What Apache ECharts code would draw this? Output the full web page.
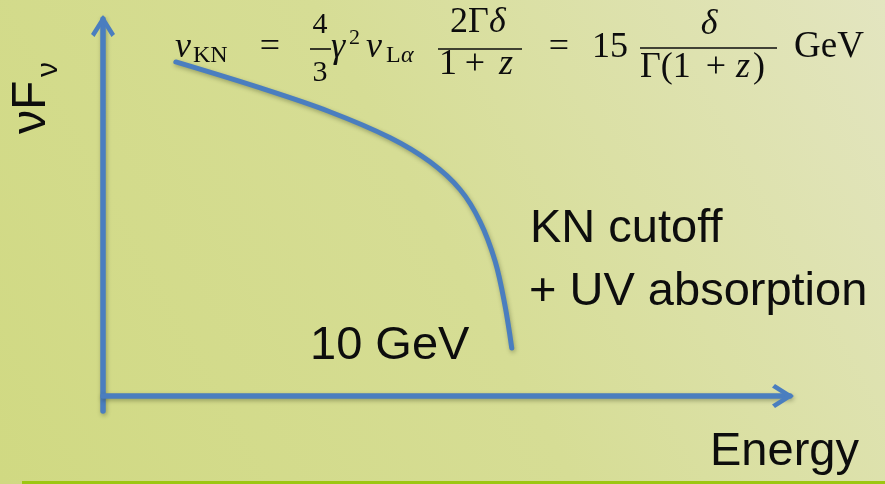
<!DOCTYPE html>
<html>
<head>
<meta charset="utf-8">
<script src="https://cdn.jsdelivr.net/npm/echarts@6/dist/echarts.min.js"></script>
<style>
  html, body { margin: 0; padding: 0; background: #d8df9c; }
  #chart { width: 885px; height: 484px; }
</style>
</head>
<body>
<div id="chart"></div>
<script>
// Schematic spectrum (arbitrary units): the high-energy end bending over and dropping
const energy = [10.6, 22.9, 33.0, 41.8, 47.6, 52.0, 54.9, 57.1, 58.5, 59.5];
const flux   = [88.6, 81.7, 75.4, 68.5, 62.1, 54.7, 46.2, 35.6, 24.1, 12.7];

// Axis ranges (arbitrary units)
const xRange = [0, 100];
const yRange = [-4, 100];

// Text shown on the sketch
const yTitle = 'νF';
const yTitleSub = 'ν';
const xTitle = 'Energy';
const cutoffLines = ['KN cutoff', '+ UV absorption'];
const cutoffEnergy = '10 GeV';

const BLUE = '#4a7ebf';
const INK = '#0d0d0d';
const SANS = "'Liberation Sans', Arial, Helvetica, sans-serif";
const SERIF = "'Liberation Serif', 'Times New Roman', serif";

// Open chevron arrow head (points up in its own box)
const CHEVRON = 'path://M12,0 L24,19 L20.5,22 L12,8.5 L3.5,22 L0,19 Z';

const lineShadow = {
  shadowColor: 'rgba(40,50,20,0.35)',
  shadowBlur: 4,
  shadowOffsetX: 1,
  shadowOffsetY: 2
};

function axisCommon(range) {
  return {
    type: 'value',
    min: range[0],
    max: range[1],
    axisLine: {
      show: true,
      onZero: true,
      symbol: ['none', CHEVRON],
      symbolSize: [24, 22],
      symbolOffset: [0, -7],
      lineStyle: Object.assign({ color: BLUE, width: 5.5 }, lineShadow)
    },
    axisTick: { show: false },
    axisLabel: { show: false },
    splitLine: { show: false }
  };
}

// Place text by its alphabetic baseline
function txt(text, x, baseline, size, opt) {
  opt = opt || {};
  const family = opt.family || SERIF;
  return {
    type: 'text',
    z: 50,
    silent: true,
    style: {
      text: text,
      x: x,
      y: baseline - 0.34 * size,
      font: (opt.italic ? 'italic ' : '') + size + 'px ' + family,
      fill: INK,
      align: opt.align || 'left',
      verticalAlign: 'middle'
    }
  };
}

function bar(x1, x2, y) {
  return {
    type: 'line',
    z: 50,
    silent: true,
    shape: { x1: x1, y1: y, x2: x2, y2: y },
    style: { stroke: INK, lineWidth: 1.6 }
  };
}

// Klein–Nishina energy relation written across the top
function formula() {
  const S = 36;
  return [
    txt('ν', 175, 60, S, { italic: true }),
    txt('KN', 193, 64, 24),
    txt('=', 270, 60, S, { align: 'center' }),
    txt('4', 320, 35, 30, { align: 'center' }),
    bar(310, 331, 49),
    txt('3', 320, 83, 30, { align: 'center' }),
    txt('γ', 331, 60, S, { italic: true }),
    txt('2', 349, 46, 22),
    txt('ν', 366, 60, S, { italic: true }),
    txt('L', 386, 64, 24),
    txt('α', 401, 64, 24, { italic: true }),
    txt('2Γ', 450, 35, S),
    txt('δ', 489, 35, S, { italic: true }),
    bar(438, 522, 49),
    txt('1', 439, 77, S),
    txt('+', 475, 77, S, { align: 'center' }),
    txt('z', 499, 77, S, { italic: true }),
    txt('=', 559, 60, S, { align: 'center' }),
    txt('15', 592, 60, S),
    txt('δ', 709, 37, S, { italic: true, align: 'center' }),
    bar(640, 777, 48),
    txt('Γ(1', 640, 80, S),
    txt('+', 716, 80, S, { align: 'center' }),
    txt('z', 736, 80, S, { italic: true }),
    txt(')', 753, 80, S),
    txt('GeV', 794, 60, 37)
  ];
}

const chart = echarts.init(document.getElementById('chart'), null, { renderer: 'canvas' });

const graphics = [
  {
    type: 'rect',
    z: -10,
    silent: true,
    shape: { x: 0, y: 0, width: 885, height: 484 },
    style: {
      fill: {
        type: 'linear', x: 0, y: 1, x2: 1, y2: 0,
        colorStops: [
          { offset: 0, color: '#d0d982' },
          { offset: 0.5, color: '#d6dd95' },
          { offset: 1, color: '#e3e5c0' }
        ]
      }
    }
  },
  {
    type: 'rect',
    z: 5,
    silent: true,
    shape: { x: 22, y: 481, width: 863, height: 3 },
    style: { fill: '#9cc712' }
  },
  // vertical axis title, reading upward
  {
    type: 'group',
    z: 50,
    children: [
      {
        type: 'text', silent: true, x: 32, y: 134, rotation: Math.PI / 2,
        style: { text: yTitle, x: 0, y: 0, font: '48px ' + SANS, fill: INK, align: 'left', verticalAlign: 'middle' }
      },
      {
        type: 'text', silent: true, x: 48.5, y: 77, rotation: Math.PI / 2,
        style: { text: yTitleSub, x: 0, y: 0, font: '30px ' + SANS, fill: INK, align: 'left', verticalAlign: 'middle' }
      }
    ]
  },
  txt(cutoffLines[0], 530, 245, 47, { family: SANS }),
  txt(cutoffLines[1], 529, 308, 47, { family: SANS }),
  txt(cutoffEnergy, 310, 362, 47, { family: SANS }),
  txt(xTitle, 710, 468, 47, { family: SANS })
].concat(formula());

chart.setOption({
  animation: false,
  grid: { left: 103, right: 95, top: 19, bottom: 73, containLabel: false },
  xAxis: axisCommon(xRange),
  yAxis: axisCommon(yRange),
  series: [
    {
      type: 'line',
      data: energy.map((e, i) => [e, flux[i]]),
      smooth: 0.35,
      showSymbol: false,
      silent: true,
      clip: false,
      lineStyle: Object.assign({ color: BLUE, width: 5, cap: 'round' }, lineShadow),
      z: 3
    }
  ],
  graphic: graphics
});
</script>
</body>
</html>
